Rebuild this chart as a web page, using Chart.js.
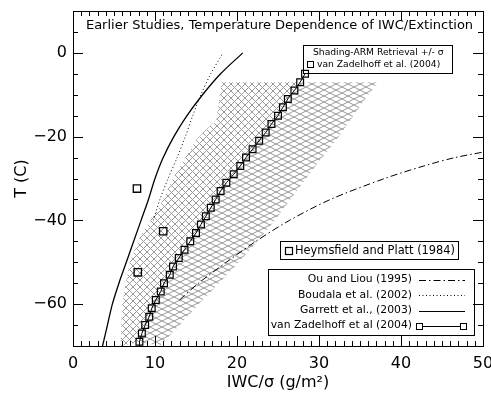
<!DOCTYPE html>
<html>
<head>
<meta charset="utf-8">
<script src="https://cdn.jsdelivr.net/npm/chart.js@4.4.0/dist/chart.umd.min.js"></script>
<style>
  html, body { margin: 0; padding: 0; background: #fff; }
</style>
</head>
<body>
<canvas id="myChart" width="491" height="393"></canvas>
<script>
// ticks
const xTicks = [0, 10, 20, 30, 40, 50];
const yTicks = [-60, -40, -20, 0];

// Garrett et al. (2003)
const garrettT = [-70, -65, -60, -55, -50, -45, -40, -35, -30, -25, -20, -15, -10, -5, 0];
const garrettX = [3.6, 4.2, 4.8, 5.6, 6.5, 7.4, 8.3, 9.2, 10.0, 11.0, 12.3, 13.9, 15.8, 18.0, 20.7];

// Boudala et al. (2002)
const boudalaT = [-40, -35, -30, -25, -20, -15, -10, -5, 0];
const boudalaX = [9.8, 10.6, 11.6, 12.7, 13.7, 14.6, 15.6, 16.8, 18.3];

// Ou and Liou (1995)
const ouT = [-59, -55, -50, -45, -40, -35, -30, -27, -25, -23];
const ouX = [13.0, 15.3, 18.7, 22.3, 26.4, 31.4, 38.0, 42.8, 46.6, 52.0];

// Heymsfield and Platt (1984)
const heymsT = [-32.4, -42.6, -52.4];
const heymsX = [7.8, 11.0, 7.9];

// van Zadelhoff et al (2004)
const zadT = [-69, -67, -65, -63, -61, -59, -57, -55, -53, -51, -49, -47, -45, -43, -41, -39, -37,
              -35, -33, -31, -29, -27, -25, -23, -21, -19, -17, -15, -13, -11, -9, -7, -5];
const zadX = [8.1, 8.4, 8.8, 9.3, 9.6, 10.1, 10.7, 11.1, 11.8, 12.2, 12.9, 13.6, 14.3, 15.0, 15.6, 16.2, 16.8,
              17.4, 18.0, 18.7, 19.6, 20.4, 21.1, 21.9, 22.7, 23.5, 24.2, 25.0, 25.6, 26.2, 27.0, 27.7, 28.3];

// Shading-ARM retrieval +/- sigma (edges of the hatched band)
const hatchLoT = [-70, -60, -50, -43, -37, -30, -25, -20.6, -18.6, -16, -7];
const hatchLoX = [5.8, 6.0, 6.9, 8.4, 10.5, 12.2, 13.7, 15.1, 16.1, 17.5, 18.1];
const hatchHiT = [-70, -65, -60, -55, -50, -45, -40, -35, -30, -25, -20, -15, -10, -7];
const hatchHiX = [10.6, 13.0, 15.3, 17.8, 20.2, 22.5, 24.6, 26.5, 28.4, 30.4, 32.4, 34.2, 36.0, 37.2];

const FONT = 'DejaVu Sans';
Chart.defaults.font.family = FONT;
Chart.defaults.color = '#000';

const pts = (xs, ts) => xs.map((v, i) => ({x: v, y: ts[i]}));

// hatch band split along the retrieval line
const topT = hatchLoT[hatchLoT.length - 1];
const zadIn = pts(zadX, zadT).filter(p => p.y <= topT);
const leftPoly = [...pts(hatchLoX, hatchLoT), ...zadIn.slice().reverse()];
const rightPoly = [...zadIn, ...pts(hatchHiX, hatchHiT).reverse()];

function hatch(w, h) {
  const c = document.createElement('canvas');
  c.width = w; c.height = h;
  const g = c.getContext('2d');
  g.strokeStyle = '#9a9a9a';
  g.lineWidth = 1;
  g.beginPath();
  for (let i = -1; i <= 1; i++) {
    for (let j = -1; j <= 1; j++) {
      g.moveTo(i * w, j * h + h); g.lineTo(i * w + w, j * h);
      g.moveTo(i * w, j * h); g.lineTo(i * w + w, j * h + h);
    }
  }
  g.stroke();
  return g.createPattern(c, 'repeat');
}

const minus = v => v < 0 ? '\u2212' + Math.abs(v) : String(v);

// box, inward ticks, title and legends
const decor = {
  id: 'decor',
  afterDraw(chart) {
    const {ctx, chartArea: a, scales: {x, y}} = chart;
    ctx.save();
    ctx.strokeStyle = '#000';
    ctx.lineWidth = 1;
    ctx.strokeRect(a.left + 0.5, a.top + 0.5, a.right - a.left, a.bottom - a.top);

    ctx.beginPath();
    for (let v = x.min; v <= x.max; v++) {
      const px = Math.round(x.getPixelForValue(v)) + 0.5;
      const len = xTicks.includes(v) ? 10 : 5;
      ctx.moveTo(px, a.bottom); ctx.lineTo(px, a.bottom - len);
      ctx.moveTo(px, a.top); ctx.lineTo(px, a.top + len);
    }
    for (let v = y.min; v <= y.max; v += 5) {
      const py = Math.round(y.getPixelForValue(v)) + 0.5;
      const len = yTicks.includes(v) ? 10 : 5;
      ctx.moveTo(a.left, py); ctx.lineTo(a.left + len, py);
      ctx.moveTo(a.right, py); ctx.lineTo(a.right - len, py);
    }
    ctx.stroke();

    ctx.fillStyle = '#000';
    ctx.textBaseline = 'middle';
    ctx.textAlign = 'center';
    ctx.font = '13px ' + FONT;
    ctx.fillText('Earlier Studies, Temperature Dependence of IWC/Extinction', 279.5, 26);

    // legend: retrieval
    ctx.strokeRect(303.5, 45.5, 149, 28);
    ctx.textAlign = 'left';
    ctx.font = '9.2px ' + FONT;
    ctx.fillText('Shading-ARM Retrieval +/- \u03c3', 313, 52.5);
    ctx.fillText('van Zadelhoff et al. (2004)', 317, 65);
    ctx.strokeRect(307.5, 61.5, 6, 6);

    // legend: Heymsfield and Platt
    ctx.strokeRect(280.5, 241.5, 178, 18);
    ctx.font = '11.4px ' + FONT;
    ctx.fillText('Heymsfield and Platt (1984)', 295, 251);
    ctx.lineWidth = 1.2;
    ctx.strokeRect(285.5, 247.5, 7, 7);
    ctx.lineWidth = 1;

    // legend: curves
    ctx.strokeRect(268.5, 269.5, 206, 66);
    ctx.textAlign = 'right';
    ctx.font = '10.8px ' + FONT;
    const rows = [
      ['Ou and Liou (1995)', 279.5, [7, 3, 1.5, 3]],
      ['Boudala et al. (2002)', 295, [1, 2.5]],
      ['Garrett et al., (2003)', 310.5, []],
      ['van Zadelhoff et al (2004)', 325.5, []]
    ];
    rows.forEach(([label, ry, dash]) => {
      ctx.fillText(label, 412, ry);
      ctx.setLineDash(dash);
      ctx.beginPath();
      ctx.moveTo(419, Math.round(ry) + 0.5);
      ctx.lineTo(465, Math.round(ry) + 0.5);
      ctx.stroke();
    });
    ctx.setLineDash([]);
    ctx.fillStyle = '#fff';
    [[416.5, 323.5], [460.5, 323.5]].forEach(([sx, sy]) => {
      ctx.fillRect(sx, sy, 6, 6);
      ctx.strokeRect(sx, sy, 6, 6);
    });
    ctx.restore();
  }
};

const clear = 'rgba(0,0,0,0)';

new Chart(document.getElementById('myChart'), {
  type: 'scatter',
  data: {
    datasets: [
      {
        label: 'Heymsfield and Platt (1984)',
        data: pts(heymsX, heymsT),
        showLine: false,
        pointStyle: 'rect',
        pointRadius: 5.2,
        pointBorderWidth: 1.3,
        pointBorderColor: '#000',
        pointBackgroundColor: clear
      },
      {
        label: 'van Zadelhoff et al (2004)',
        data: pts(zadX, zadT),
        showLine: true,
        borderColor: '#000',
        borderWidth: 1,
        pointStyle: 'rect',
        pointRadius: 4.8,
        pointBorderWidth: 1.2,
        pointBorderColor: '#000',
        pointBackgroundColor: clear
      },
      {
        label: 'Garrett et al., (2003)',
        data: pts(garrettX, garrettT),
        showLine: true,
        tension: 0.3,
        borderColor: '#000',
        borderWidth: 1.3,
        pointRadius: 0
      },
      {
        label: 'Boudala et al. (2002)',
        data: pts(boudalaX, boudalaT),
        showLine: true,
        tension: 0.3,
        borderColor: '#000',
        borderWidth: 1,
        borderDash: [1, 2.5],
        pointRadius: 0
      },
      {
        label: 'Ou and Liou (1995)',
        data: pts(ouX, ouT),
        showLine: true,
        tension: 0.3,
        borderColor: '#000',
        borderWidth: 1,
        borderDash: [7, 3, 1.5, 3],
        pointRadius: 0
      },
      {
        label: 'retrieval low',
        data: leftPoly,
        showLine: true,
        fill: 'shape',
        backgroundColor: hatch(7, 7),
        borderColor: clear,
        borderWidth: 1,
        pointRadius: 0
      },
      {
        label: 'retrieval high',
        data: rightPoly,
        showLine: true,
        fill: 'shape',
        backgroundColor: hatch(12, 6),
        borderColor: clear,
        borderWidth: 1,
        pointRadius: 0
      }
    ]
  },
  options: {
    responsive: false,
    animation: false,
    layout: { padding: { top: 11, right: 8, left: 0, bottom: 0 } },
    plugins: { legend: { display: false }, tooltip: { enabled: false } },
    scales: {
      x: {
        type: 'linear',
        min: 0, max: 50,
        grid: { display: false, drawTicks: false },
        border: { display: false },
        afterBuildTicks: s => { s.ticks = xTicks.map(v => ({value: v})); },
        afterFit: s => { s.height = 47; s.paddingLeft = 0; s.paddingRight = 0; },
        ticks: { font: { size: 16 }, padding: 8, maxRotation: 0, autoSkip: false, callback: minus },
        title: { display: true, text: 'IWC/\u03c3 (g/m\u00b2)', font: { size: 16 }, padding: { top: 0, bottom: 1 } }
      },
      y: {
        type: 'linear',
        min: -70, max: 10,
        grid: { display: false, drawTicks: false },
        border: { display: false },
        afterBuildTicks: s => { s.ticks = yTicks.map(v => ({value: v})); },
        afterFit: s => { s.width = 73; s.paddingTop = 0; s.paddingBottom = 0; },
        ticks: { font: { size: 16 }, padding: 6, autoSkip: false, callback: minus },
        title: { display: true, text: 'T (C)', font: { size: 16 }, padding: { top: 12, bottom: 0 } }
      }
    }
  },
  plugins: [decor]
});
</script>
</body>
</html>
